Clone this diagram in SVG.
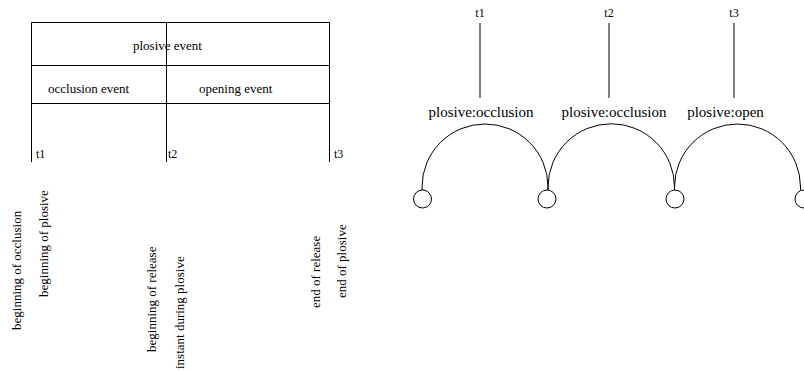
<svg xmlns="http://www.w3.org/2000/svg" width="804" height="371" viewBox="0 0 804 371">
<style>
.ln{stroke:#000;stroke-width:1;fill:none}
.t{font-family:"Liberation Serif","Times New Roman",serif;font-size:13px;fill:#000}
.tl{font-family:"Liberation Serif","Times New Roman",serif;font-size:12px;fill:#000}
.big{font-family:"Liberation Serif","Times New Roman",serif;font-size:15px;fill:#000}
.c{text-anchor:middle}
</style>
<rect width="804" height="371" fill="#fff"/>
<g id="timeline-left">
<g id="box" class="ln">
<line x1="31.5" y1="22.5" x2="329.5" y2="22.5"/>
<line x1="31.5" y1="65.5" x2="329.5" y2="65.5"/>
<line x1="31.5" y1="103.5" x2="329.5" y2="103.5"/>
<line x1="31.5" y1="22.5" x2="31.5" y2="162"/>
<line x1="166.5" y1="22.5" x2="166.5" y2="162"/>
<line x1="329.5" y1="22.5" x2="329.5" y2="162"/>
</g>
<g id="plosive-event"><text class="t" x="133" y="50">plosive event</text></g>
<g id="occlusion-event"><text class="t" x="48" y="93">occlusion event</text></g>
<g id="opening-event"><text class="t" x="199" y="93">opening event</text></g>
<text class="tl" x="36" y="158">t1</text>
<text class="tl" x="168" y="158">t2</text>
<text class="tl" x="334" y="158">t3</text>
<g id="vertical-labels">
<text class="t" transform="translate(21,330) rotate(-90)">beginning of occlusion</text>
<text class="t" transform="translate(48,297) rotate(-90)">beginning of plosive</text>
<text class="t" transform="translate(155.5,352) rotate(-90)">beginning of release</text>
<text class="t" transform="translate(183.5,369) rotate(-90)">instant during plosive</text>
<text class="t" transform="translate(320,308) rotate(-90)">end of release</text>
<text class="t" transform="translate(345.5,298) rotate(-90)">end of plosive</text>
</g>
</g>
<g id="t1"><text class="tl c" x="480" y="17">t1</text></g>
<g id="t2"><text class="tl c" x="609" y="17">t2</text></g>
<g id="t3"><text class="tl c" x="734" y="17">t3</text></g>
<g id="arc1"><text class="big c" x="481" y="117">plosive:occlusion</text></g>
<g id="arc2"><text class="big c" x="614" y="117">plosive:occlusion</text></g>
<g id="arc3"><text class="big c" x="725.5" y="117">plosive:open</text></g>
<g id="node1"><circle class="ln" cx="422.5" cy="199" r="9"/></g>
<g id="node2"><circle class="ln" cx="547" cy="199" r="9"/></g>
<g id="node3"><circle class="ln" cx="675" cy="199" r="9"/></g>
<g id="node4"><circle class="ln" cx="804" cy="199" r="9"/></g>
<g id="connectors" class="ln">
<line x1="480" y1="23" x2="480" y2="98"/>
<line x1="609" y1="23" x2="609" y2="98"/>
<line x1="734" y1="23" x2="734" y2="98"/>
<path d="M422,190 L422,187 A63,63 0 0 1 548,187 L548,190"/>
<path d="M548,190 L548,187 A63,63 0 0 1 674.5,187 L674.5,190"/>
<path d="M674.5,190 L674.5,187 A63,63 0 0 1 800.5,187 L800.5,190"/>
</g>
</svg>
